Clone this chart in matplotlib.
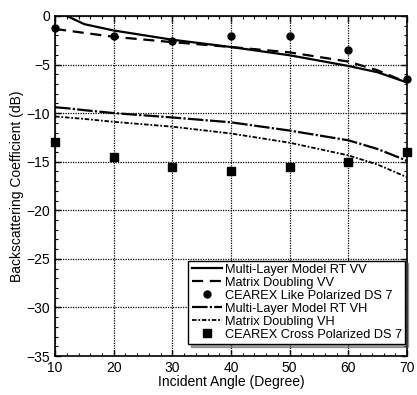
import numpy as np
import matplotlib
matplotlib.use('Agg')
from matplotlib import pyplot as plt
from matplotlib.ticker import MultipleLocator

plt.rcParams['font.family'] = ['Liberation Sans', 'DejaVu Sans']

# Model curves (incident angle in degrees, backscatter in dB)
angle_model = [10, 12, 15, 20, 30, 40, 50, 60, 65, 70]
rt_vv = [0.6, 0.0, -0.85, -1.5, -2.45, -3.2, -4.05, -5.15, -5.8, -6.85]
md_vv = [-1.35, -1.5, -1.75, -2.15, -2.7, -3.2, -3.75, -4.7, -5.6, -6.85]
rt_vh = [-9.4, -9.5, -9.7, -10.0, -10.45, -10.95, -11.8, -12.8, -13.7, -14.9]
md_vh = [-10.35, -10.45, -10.6, -10.9, -11.4, -12.1, -13.05, -14.35, -15.3, -16.6]

# Measurements
angle_meas = [10, 20, 30, 40, 50, 60, 70]
cearex_like = [-1.2, -2.05, -2.55, -2.05, -2.05, -3.55, -6.5]
cearex_cross = [-13.0, -14.5, -15.5, -16.0, -15.5, -15.0, -14.0]

fig = plt.figure(figsize=(4.17, 3.95), dpi=100)
ax = fig.add_axes([0.132, 0.0987, 0.844, 0.861])

ax.plot(angle_model, rt_vv, color='black', lw=1.6, ls='-', label='Multi-Layer Model RT VV')
ax.plot(angle_model, md_vv, color='black', lw=1.6, ls=(0, (5, 3)), label='Matrix Doubling VV')
ax.plot(angle_meas, cearex_like, 'o', color='black', ms=5, label='CEAREX Like Polarized DS 7', clip_on=False)
ax.plot(angle_model, rt_vh, color='black', lw=1.6, ls=(0, (7, 1, 1, 1)), label='Multi-Layer Model RT VH')
ax.plot(angle_model, md_vh, color='black', lw=1.3, ls=(0, (2.5, 1, 1, 1)), label='Matrix Doubling VH')
ax.plot(angle_meas, cearex_cross, 's', color='black', ms=6, label='CEAREX Cross Polarized DS 7', clip_on=False)

ax.set_xlim(10, 70)
ax.set_ylim(-35, 0)
ax.xaxis.set_major_locator(MultipleLocator(10))
ax.xaxis.set_minor_locator(MultipleLocator(2))
ax.yaxis.set_major_locator(MultipleLocator(5))
ax.yaxis.set_minor_locator(MultipleLocator(1))
ax.tick_params(which='both', direction='in', top=True, right=True, labelsize=10, color='black')
ax.tick_params(which='major', length=4, width=1)
ax.tick_params(which='minor', length=2.5, width=0.8)
ax.grid(True, which='major', color='black', ls=(0, (1, 1)), lw=0.9)
for s in ax.spines.values():
    s.set_linewidth(1.2)

ax.set_xlabel('Incident Angle (Degree)', fontsize=10, labelpad=0)
ax.set_ylabel('Backscattering Coefficient (dB)', fontsize=10, labelpad=2)

leg = ax.legend(loc='lower right', bbox_to_anchor=(0.995, 0.035), fontsize=9.2,
                frameon=True, fancybox=False, shadow=True, edgecolor='black',
                framealpha=1, handlelength=2.4, handletextpad=0.2, labelspacing=0.08,
                borderpad=0.25, borderaxespad=0)
leg.get_frame().set_linewidth(1.0)

fig.savefig('out.png', dpi=100)
